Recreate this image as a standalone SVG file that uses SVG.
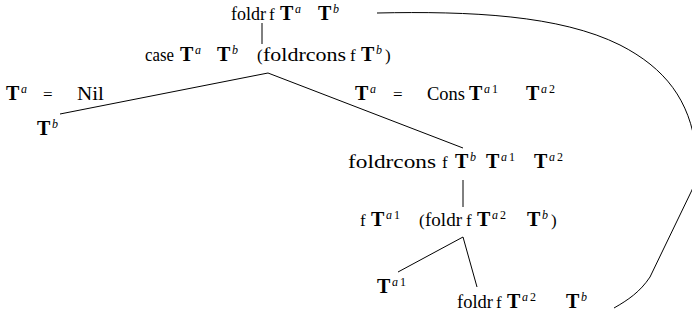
<svg xmlns="http://www.w3.org/2000/svg" width="692" height="320" viewBox="0 0 692 320">
<style>
text{font-family:"Liberation Serif","DejaVu Serif",serif;font-size:17px;fill:#000}
.w{font-size:18px}
.b{font-weight:bold;font-size:20px}
.s{font-size:12px;font-style:italic}
.n{font-size:12px}
.e{stroke:#000;stroke-width:1;fill:none}
</style>
<rect width="692" height="320" fill="#fff"/>
<g id="connectors">
<line class="e" x1="262" y1="23" x2="262" y2="44"/>
<line class="e" x1="268" y1="73" x2="60" y2="114"/>
<line class="e" x1="268" y1="73" x2="463" y2="148"/>
<line class="e" x1="463" y1="180" x2="463" y2="207" stroke="#777"/>
<line class="e" x1="463" y1="237" x2="398" y2="272"/>
<line class="e" x1="463" y1="237" x2="477" y2="287"/>
<path class="e" d="M377,13 C470,11 560,15 620,45 C665,68 690,100 696,150 C697,170 695,182 692,190 L650,277 C640,292 628,300 614,308"/>
</g>
<g id="n1"><text y="20"><tspan class="w" x="231" textLength="35" lengthAdjust="spacingAndGlyphs">foldr</tspan><tspan x="269">f</tspan><tspan class="b" x="280">T</tspan><tspan class="s" x="295" dy="-7">a</tspan><tspan class="b" x="318" dy="7">T</tspan><tspan class="s" x="333" dy="-7">b</tspan></text></g>
<g id="n2"><text y="61"><tspan class="w" x="145" textLength="29" lengthAdjust="spacingAndGlyphs">case</tspan><tspan class="b" x="180">T</tspan><tspan class="s" x="195" dy="-7">a</tspan><tspan class="b" x="217" dy="7">T</tspan><tspan class="s" x="232" dy="-7">b</tspan><tspan x="257" dy="7">(</tspan><tspan class="w" x="263" textLength="83" lengthAdjust="spacingAndGlyphs">foldrcons</tspan><tspan x="350">f</tspan><tspan class="b" x="361">T</tspan><tspan class="s" x="376" dy="-7">b</tspan><tspan x="385" dy="7">)</tspan></text></g>
<g id="l1"><text y="100"><tspan class="b" x="6">T</tspan><tspan class="s" x="21" dy="-7">a</tspan><tspan x="43" dy="7">=</tspan><tspan class="w" x="77" textLength="27" lengthAdjust="spacingAndGlyphs">Nil</tspan></text></g>
<g id="n3"><text y="135"><tspan class="b" x="37">T</tspan><tspan class="s" x="52" dy="-7">b</tspan></text></g>
<g id="l2"><text y="100"><tspan class="b" x="355">T</tspan><tspan class="s" x="370" dy="-7">a</tspan><tspan x="393" dy="7">=</tspan><tspan class="w" x="427" textLength="38" lengthAdjust="spacingAndGlyphs">Cons</tspan><tspan class="b" x="469">T</tspan><tspan class="s" x="484" dy="-7">a</tspan><tspan class="n" x="492">1</tspan><tspan class="b" x="526" dy="7">T</tspan><tspan class="s" x="541" dy="-7">a</tspan><tspan class="n" x="549">2</tspan></text></g>
<g id="n4"><text y="168"><tspan class="w" x="348" textLength="88" lengthAdjust="spacingAndGlyphs">foldrcons</tspan><tspan x="442">f</tspan><tspan class="b" x="455">T</tspan><tspan class="s" x="470" dy="-7">b</tspan><tspan class="b" x="486" dy="7">T</tspan><tspan class="s" x="501" dy="-7">a</tspan><tspan class="n" x="509">1</tspan><tspan class="b" x="534" dy="7">T</tspan><tspan class="s" x="549" dy="-7">a</tspan><tspan class="n" x="557">2</tspan></text></g>
<g id="n5"><text y="226"><tspan x="360">f</tspan><tspan class="b" x="371">T</tspan><tspan class="s" x="386" dy="-7">a</tspan><tspan class="n" x="394">1</tspan><tspan x="419" dy="7">(</tspan><tspan class="w" x="425" textLength="37" lengthAdjust="spacingAndGlyphs">foldr</tspan><tspan x="466">f</tspan><tspan class="b" x="477">T</tspan><tspan class="s" x="492" dy="-7">a</tspan><tspan class="n" x="500">2</tspan><tspan class="b" x="527" dy="7">T</tspan><tspan class="s" x="542" dy="-7">b</tspan><tspan x="551" dy="7">)</tspan></text></g>
<g id="n6"><text y="293"><tspan class="b" x="377">T</tspan><tspan class="s" x="392" dy="-7">a</tspan><tspan class="n" x="400">1</tspan></text></g>
<g id="n7"><text y="308"><tspan class="w" x="457" textLength="36" lengthAdjust="spacingAndGlyphs">foldr</tspan><tspan x="496">f</tspan><tspan class="b" x="507">T</tspan><tspan class="s" x="522" dy="-7">a</tspan><tspan class="n" x="530">2</tspan><tspan class="b" x="566" dy="7">T</tspan><tspan class="s" x="581" dy="-7">b</tspan></text></g>
</svg>
